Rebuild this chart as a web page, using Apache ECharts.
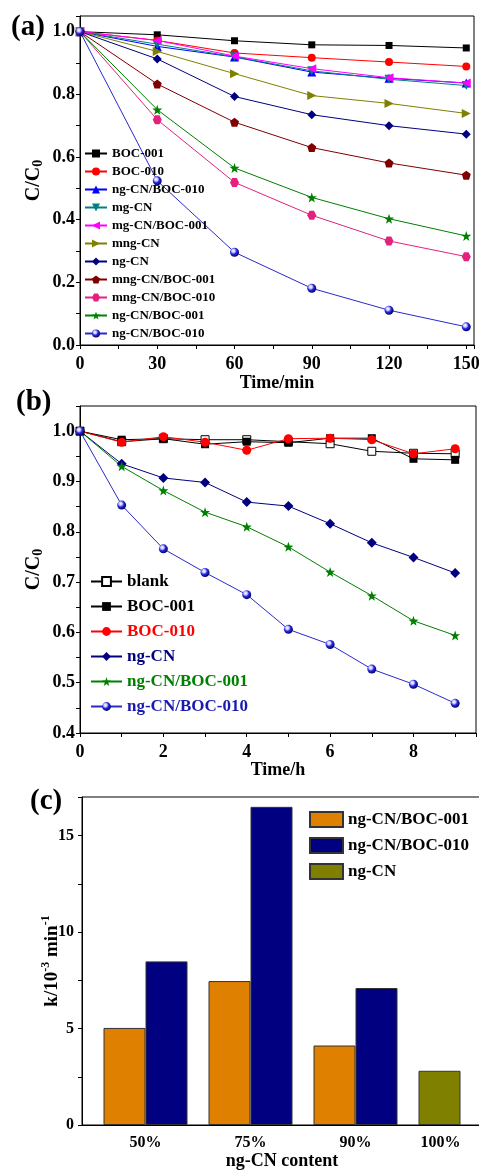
<!DOCTYPE html>
<html><head><meta charset="utf-8">
<script src="https://cdn.jsdelivr.net/npm/echarts@6/dist/echarts.min.js"></script>
<style>html,body{margin:0;padding:0;background:#fff}#c{width:479px;height:1172px}</style>
</head><body><div id="c"></div>
<script>
// ---------- Panel (a) data ----------
const timesA = [0, 30, 60, 90, 120, 150];
const a_BOC001        = [1.0, 0.990, 0.971, 0.958, 0.956, 0.948];
const a_BOC010        = [1.0, 0.972, 0.932, 0.917, 0.903, 0.889];
const a_ngCN_BOC010t  = [1.0, 0.953, 0.919, 0.871, 0.851, 0.836];
const a_mgCN          = [1.0, 0.960, 0.920, 0.875, 0.848, 0.828];
const a_mgCN_BOC001   = [1.0, 0.972, 0.922, 0.882, 0.853, 0.836];
const a_mngCN         = [1.0, 0.937, 0.866, 0.796, 0.771, 0.739];
const a_ngCN          = [1.0, 0.913, 0.793, 0.735, 0.700, 0.673];
const a_mngCN_BOC001  = [1.0, 0.833, 0.711, 0.630, 0.581, 0.542];
const a_mngCN_BOC010  = [1.0, 0.719, 0.519, 0.414, 0.332, 0.282];
const a_ngCN_BOC001   = [1.0, 0.751, 0.565, 0.471, 0.403, 0.348];
const a_ngCN_BOC010   = [1.0, 0.524, 0.296, 0.181, 0.111, 0.058];

// ---------- Panel (b) data ----------
const hoursB = [0, 1, 2, 3, 4, 5, 6, 7, 8, 9];
const b_blank        = [1.0, 0.979, 0.985, 0.983, 0.983, 0.979, 0.975, 0.960, 0.956, 0.955];
const b_BOC001       = [1.0, 0.983, 0.985, 0.974, 0.979, 0.977, 0.986, 0.986, 0.945, 0.943];
const b_BOC010       = [1.0, 0.978, 0.989, 0.978, 0.962, 0.985, 0.986, 0.983, 0.955, 0.965];
const b_ngCN         = [1.0, 0.935, 0.907, 0.898, 0.859, 0.851, 0.816, 0.778, 0.749, 0.718];
const b_ngCN_BOC001  = [1.0, 0.930, 0.882, 0.839, 0.810, 0.770, 0.720, 0.673, 0.623, 0.594];
const b_ngCN_BOC010  = [1.0, 0.853, 0.766, 0.719, 0.675, 0.606, 0.576, 0.527, 0.497, 0.459];

// ---------- Panel (c) data ----------
const contentCats = ['50%', '75%', '90%', '100%'];
const c_BOC001 = [5.03, 7.46, 4.12, '-'];
const c_BOC010 = [8.48, 16.49, 7.10, '-'];
const c_ngCN   = ['-', '-', '-', 2.81];

const FF = "'Liberation Serif','Times New Roman',serif";
const BOLD = {fontFamily: FF, fontWeight: 'bold', color: '#000'};

const PENTA = 'path://M0,-10 L9.51,-3.09 L5.88,8.09 L-5.88,8.09 L-9.51,-3.09 Z';
const HEXA  = 'path://M-5,-8.66 L5,-8.66 L10,0 L5,8.66 L-5,8.66 L-10,0 Z';
const STAR  = 'path://M0,-10 L2.35,-3.24 L9.51,-3.09 L3.8,1.24 L5.88,8.09 L0,4 L-5.88,8.09 L-3.8,1.24 L-9.51,-3.09 L-2.35,-3.24 Z';
function sphere(c) {
  return {type: 'radial', x: 0.38, y: 0.35, r: 0.65, colorStops: [
    {offset: 0, color: '#ffffff'}, {offset: 0.28, color: '#c8c8ff'},
    {offset: 0.55, color: c}, {offset: 1, color: '#00006a'}]};
}

function ls(name, xs, ys, idx, color, symbol, size, extra) {
  const s = {
    type: 'line', name: name, xAxisIndex: idx, yAxisIndex: idx,
    data: xs.map((x, i) => [x, ys[i]]),
    symbol: symbol, symbolSize: size,
    lineStyle: {color: color, width: 1},
    itemStyle: {color: color, borderWidth: 0},
    emphasis: {disabled: true}, animation: false
  };
  return Object.assign(s, extra || {});
}

const axisCommon = {
  axisLine: {show: true, onZero: false, lineStyle: {color: '#000', width: 1}},
  axisTick: {show: true, inside: false, length: 4, lineStyle: {color: '#000', width: 1}},
  splitLine: {show: false},
  nameMoveOverlap: false
};
function ax(o) { return Object.assign({}, axisCommon, o); }

const cc0 = {
  a: {fontSize: 20, fontWeight: 'bold', fontFamily: FF, color: '#000', lineHeight: 22, verticalAlign: 'middle'},
  s: {fontSize: 14, fontWeight: 'bold', fontFamily: FF, color: '#000', verticalAlign: 'bottom'}
};

const seriesA = [
  ls('a|BOC-001', timesA, a_BOC001, 0, '#000000', 'rect', 7),
  ls('a|BOC-010', timesA, a_BOC010, 0, '#FF0000', 'circle', 8),
  ls('a1|ng-CN/BOC-010', timesA, a_ngCN_BOC010t, 0, '#0000FF', 'triangle', 9),
  ls('a|mg-CN', timesA, a_mgCN, 0, '#008080', 'triangle', 9, {symbolRotate: 180}),
  ls('a|mg-CN/BOC-001', timesA, a_mgCN_BOC001, 0, '#FF00FF', 'triangle', 9, {symbolRotate: 90}),
  ls('a|mng-CN', timesA, a_mngCN, 0, '#808000', 'triangle', 9, {symbolRotate: -90}),
  ls('a|ng-CN', timesA, a_ngCN, 0, '#000080', 'diamond', 9),
  ls('a|mng-CN/BOC-001', timesA, a_mngCN_BOC001, 0, '#800000', PENTA, 9),
  ls('a|mng-CN/BOC-010', timesA, a_mngCN_BOC010, 0, '#E5217E', HEXA, 9),
  ls('a|ng-CN/BOC-001', timesA, a_ngCN_BOC001, 0, '#008000', STAR, 10),
  ls('a2|ng-CN/BOC-010', timesA, a_ngCN_BOC010, 0, '#2a2acc', 'circle', 9, {itemStyle: {color: sphere('#2a2ae0'), borderWidth: 0}})
];

const seriesB = [
  ls('b|blank', hoursB, b_blank, 1, '#000000', 'rect', 8, {itemStyle: {color: '#ffffff', borderColor: '#000', borderWidth: 1}}),
  ls('b|BOC-001', hoursB, b_BOC001, 1, '#000000', 'rect', 8),
  ls('b|BOC-010', hoursB, b_BOC010, 1, '#FF0000', 'circle', 9),
  ls('b|ng-CN', hoursB, b_ngCN, 1, '#000080', 'diamond', 10),
  ls('b|ng-CN/BOC-001', hoursB, b_ngCN_BOC001, 1, '#008000', STAR, 10),
  ls('b|ng-CN/BOC-010', hoursB, b_ngCN_BOC010, 1, '#2a2acc', 'circle', 9, {itemStyle: {color: sphere('#2a2ae0'), borderWidth: 0}})
];

const barBorder = {borderColor: '#333', borderWidth: 1};
const seriesC = [
  {type: 'bar', name: 'c|ng-CN/BOC-001', xAxisIndex: 3, yAxisIndex: 3, stack: 's', data: c_BOC001,
   itemStyle: Object.assign({color: '#E08000'}, barBorder), barGap: '0%', barCategoryGap: '20%', animation: false, emphasis: {disabled: true}},
  {type: 'bar', name: 'c|ng-CN/BOC-010', xAxisIndex: 3, yAxisIndex: 3, data: c_BOC010,
   itemStyle: Object.assign({color: '#000080'}, barBorder), barGap: '0%', barCategoryGap: '20%', animation: false, emphasis: {disabled: true}},
  {type: 'bar', name: 'c|ng-CN', xAxisIndex: 3, yAxisIndex: 3, stack: 's', data: c_ngCN,
   itemStyle: Object.assign({color: '#808000'}, barBorder), barGap: '0%', barCategoryGap: '20%', animation: false, emphasis: {disabled: true}}
];

const strip = n => n.split('|')[1];

const option = {
  backgroundColor: '#fff',
  animation: false,
  title: [
    {text: '(a)', left: 11, top: 13, padding: 0, textStyle: Object.assign({fontSize: 29}, BOLD)},
    {text: '(b)', left: 16, top: 388, padding: 0, textStyle: Object.assign({fontSize: 29}, BOLD)},
    {text: '(c)', left: 30, top: 787, padding: 0, textStyle: Object.assign({fontSize: 29}, BOLD)}
  ],
  grid: [
    {left: 80, top: 16, width: 394, height: 329, show: true, borderColor: '#000', borderWidth: 1, outerBoundsMode: 'none', containLabel: false},
    {left: 80, top: 406, width: 396, height: 327, show: true, borderColor: '#000', borderWidth: 1, outerBoundsMode: 'none', containLabel: false},
    {left: 82, top: 797, width: 400, height: 328, show: true, borderColor: '#000', borderWidth: 1, outerBoundsMode: 'none', containLabel: false},
    {left: 93, top: 797, width: 420, height: 328, show: false, outerBoundsMode: 'none', containLabel: false}
  ],
  legend: [
    {orient: 'vertical', left: 84, top: 147, padding: 0, itemWidth: 22, itemHeight: 10, itemGap: 5,
     selectedMode: false, formatter: strip,
     textStyle: Object.assign({fontSize: 13}, BOLD),
     data: seriesA.map(s => s.name)},
    {orient: 'vertical', left: 90, top: 573, padding: 0, itemWidth: 31, itemHeight: 11, itemGap: 8,
     selectedMode: false, formatter: strip,
     textStyle: Object.assign({fontSize: 17}, BOLD),
     data: [
       {name: 'b|blank', textStyle: {color: '#000000'}},
       {name: 'b|BOC-001', textStyle: {color: '#000000'}},
       {name: 'b|BOC-010', textStyle: {color: '#FF0000'}},
       {name: 'b|ng-CN', textStyle: {color: '#000080'}},
       {name: 'b|ng-CN/BOC-001', textStyle: {color: '#008000'}},
       {name: 'b|ng-CN/BOC-010', textStyle: {color: '#1a1ab0'}}
     ]},
    {orient: 'vertical', left: 309, top: 811, padding: 0, itemWidth: 33, itemHeight: 15, itemGap: 9,
     icon: 'rect', selectedMode: false, formatter: strip,
     textStyle: Object.assign({fontSize: 17}, BOLD),
     data: seriesC.map(s => s.name)}
  ],
  xAxis: [
    ax({gridIndex: 0, type: 'value', min: 0, max: 153, interval: 15,
        name: 'Time/min', nameLocation: 'middle', nameGap: 29,
        nameTextStyle: Object.assign({fontSize: 18}, BOLD),
        axisLabel: Object.assign({fontSize: 18, margin: 10, showMaxLabel: true,
          formatter: v => (Math.round(v) % 30 === 0 ? String(Math.round(v)) : '')}, BOLD)}),
    ax({gridIndex: 1, type: 'value', min: 0, max: 9.5, interval: 1,
        name: 'Time/h', nameLocation: 'middle', nameGap: 28,
        nameTextStyle: Object.assign({fontSize: 18}, BOLD),
        axisLabel: Object.assign({fontSize: 18, margin: 10,
          formatter: v => (Number.isInteger(v) && v % 2 === 0 ? String(v) : '')}, BOLD)}),
    ax({gridIndex: 2, type: 'value', min: 0, max: 1,
        axisTick: {show: false}, axisLabel: {show: false},
        name: 'ng-CN content', nameLocation: 'middle', nameGap: 27,
        nameTextStyle: Object.assign({fontSize: 18}, BOLD)}),
    {gridIndex: 3, type: 'category', data: [
        {value: contentCats[0]}, {value: contentCats[1]}, {value: contentCats[2]},
        {value: contentCats[3], textStyle: {align: 'right'}}],
     axisLine: {show: false}, axisTick: {show: false}, splitLine: {show: false},
     axisLabel: Object.assign({fontSize: 16, margin: 10, interval: 0}, BOLD)}
  ],
  yAxis: [
    ax({gridIndex: 0, type: 'value', min: 0, max: 1.05, interval: 0.1,
        name: '{a|C/C}{s|0}', nameLocation: 'middle', nameRotate: 90, nameGap: 35,
        nameTextStyle: {rich: cc0},
        axisLabel: Object.assign({fontSize: 18, margin: 5,
          formatter: v => (Math.round(v * 10) % 2 === 0 ? v.toFixed(1) : '')}, BOLD)}),
    ax({gridIndex: 1, type: 'value', min: 0.4, max: 1.05, interval: 0.05,
        name: '{a|C/C}{s|0}', nameLocation: 'middle', nameRotate: 90, nameGap: 35,
        nameTextStyle: {rich: cc0},
        axisLabel: Object.assign({fontSize: 18, margin: 5,
          formatter: v => (Math.round(v * 100) % 10 === 0 ? v.toFixed(1) : '')}, BOLD)}),
    ax({gridIndex: 2, type: 'value', min: 0, max: 17, interval: 2.5,
        name: '{a|k/10}{p|-3}{a| min}{p|-1}', nameLocation: 'middle', nameRotate: 90, nameGap: 20,
        nameTextStyle: {rich: {
          a: {fontSize: 19, fontWeight: 'bold', fontFamily: FF, color: '#000', lineHeight: 22, verticalAlign: 'bottom'},
          p: {fontSize: 12, fontWeight: 'bold', fontFamily: FF, color: '#000', verticalAlign: 'top'}}},
        axisLabel: Object.assign({fontSize: 16, margin: 8,
          formatter: v => (v % 5 === 0 ? String(v) : '')}, BOLD)}),
    {gridIndex: 3, type: 'value', min: 0, max: 17, show: false}
  ],
  series: seriesA.concat(seriesB, seriesC)
};

const chart = echarts.init(document.getElementById('c'), null, {renderer: 'canvas'});
chart.setOption(option);
</script>
</body></html>
